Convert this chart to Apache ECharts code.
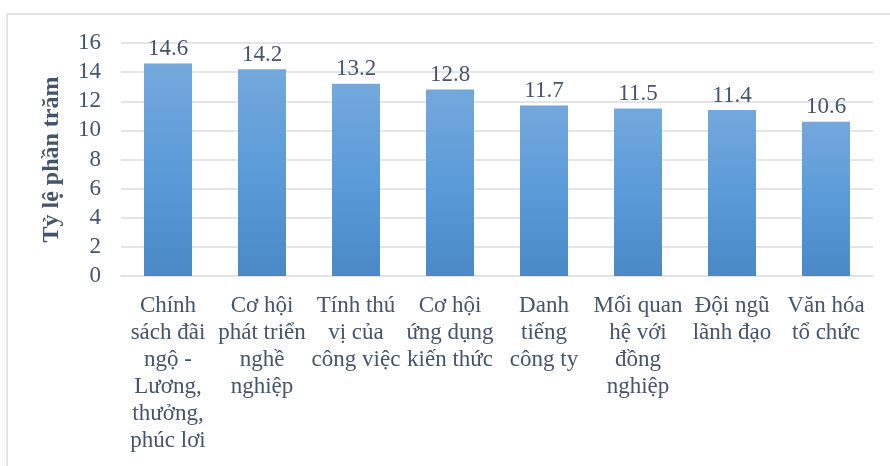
<!DOCTYPE html>
<html>
<head>
<meta charset="utf-8">
<script src="https://cdn.jsdelivr.net/npm/echarts@6/dist/echarts.min.js"></script>
<style>
  html, body { margin: 0; padding: 0; background: #fff; }
  #chart { width: 890px; height: 466px; }
</style>
</head>
<body>
<div id="chart"></div>
<script>
// Factors and their share (%)
const categories = [
  'Chính\nsách đãi\nngộ -\nLương,\nthưởng,\nphúc lơi',
  'Cơ hội\nphát triển\nnghề\nnghiệp',
  'Tính thú\nvị của\ncông việc',
  'Cơ hội\nứng dụng\nkiến thức',
  'Danh\ntiếng\ncông ty',
  'Mối quan\nhệ với\nđồng\nnghiệp',
  'Đội ngũ\nlãnh đạo',
  'Văn hóa\ntổ chức'
];
const values = [14.6, 14.2, 13.2, 12.8, 11.7, 11.5, 11.4, 10.6];
const yAxisTitle = 'Tỷ lệ phần trăm';

const textColor = '#44546a';
const serif = '"Liberation Serif", "DejaVu Serif", serif';

const chart = echarts.init(document.getElementById('chart'));
chart.setOption({
  animation: false,
  textStyle: { fontFamily: serif },
  graphic: [
    { type: 'line', shape: { x1: 7, y1: 14, x2: 890, y2: 14 }, style: { stroke: '#e3e5e8', lineWidth: 2 } },
    { type: 'line', shape: { x1: 7, y1: 14, x2: 7, y2: 466 }, style: { stroke: '#e3e5e8', lineWidth: 2 } }
  ],
  grid: { left: 121, right: 17, top: 43, bottom: 190 },
  xAxis: {
    type: 'category',
    data: categories,
    axisTick: { show: false },
    axisLine: { lineStyle: { color: '#dfe2e6', width: 2 } },
    axisLabel: {
      interval: 0,
      color: textColor,
      fontSize: 23,
      fontFamily: serif,
      lineHeight: 27,
      margin: 16,
      align: 'center'
    }
  },
  yAxis: {
    type: 'value',
    min: 0,
    max: 16,
    interval: 2,
    name: yAxisTitle,
    nameLocation: 'middle',
    nameGap: 57,
    nameTextStyle: { color: textColor, fontSize: 24, fontWeight: 'bold', fontFamily: serif },
    axisLine: { show: false },
    axisTick: { show: false },
    axisLabel: { color: textColor, fontSize: 23, fontFamily: serif, margin: 20 },
    splitLine: { lineStyle: { color: '#e3e5e8', width: 2 } }
  },
  series: [{
    type: 'bar',
    data: values,
    barWidth: 48,
    itemStyle: {
      color: new echarts.graphic.LinearGradient(0, 0, 0, 1, [
        { offset: 0, color: '#74a8dc' },
        { offset: 0.5, color: '#5b9bd9' },
        { offset: 1, color: '#4a88c6' }
      ])
    },
    label: {
      show: true,
      position: 'top',
      distance: 3,
      color: textColor,
      fontSize: 23,
      fontFamily: serif,
      formatter: p => p.value.toFixed(1)
    }
  }]
});
</script>
</body>
</html>
